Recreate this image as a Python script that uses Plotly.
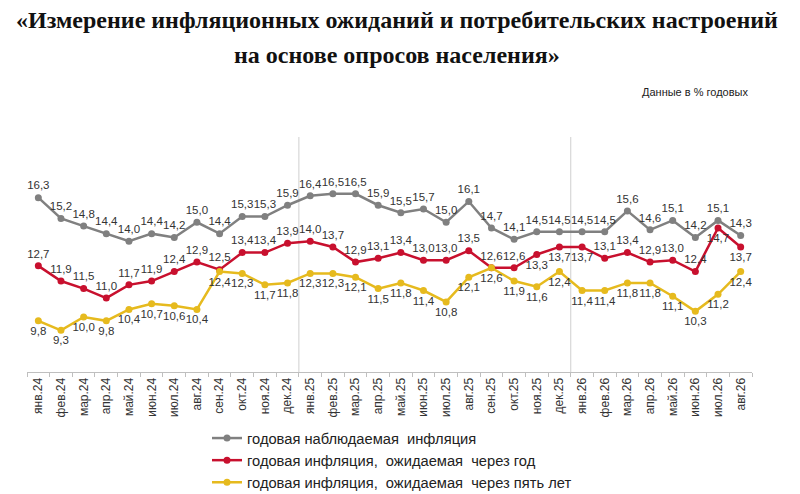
import plotly.graph_objects as go

# месяцы
months = ["янв.24", "фев.24", "мар.24", "апр.24", "май.24", "июн.24", "июл.24", "авг.24",
          "сен.24", "окт.24", "ноя.24", "дек.24", "янв.25", "фев.25", "мар.25", "апр.25",
          "май.25", "июн.25", "июл.25", "авг.25", "сен.25", "окт.25", "ноя.25", "дек.25",
          "янв.26", "фев.26", "мар.26", "апр.26", "май.26", "июн.26", "июл.26", "авг.26"]

observed = [16.3, 15.2, 14.8, 14.4, 14.0, 14.4, 14.2, 15.0, 14.4, 15.3, 15.3, 15.9,
            16.4, 16.5, 16.5, 15.9, 15.5, 15.7, 15.0, 16.1, 14.7, 14.1, 14.5, 14.5,
            14.5, 14.5, 15.6, 14.6, 15.1, 14.2, 15.1, 14.3]
expected_1y = [12.7, 11.9, 11.5, 11.0, 11.7, 11.9, 12.4, 12.9, 12.5, 13.4, 13.4, 13.9,
               14.0, 13.7, 12.9, 13.1, 13.4, 13.0, 13.0, 13.5, 12.6, 12.6, 13.3, 13.7,
               13.7, 13.1, 13.4, 12.9, 13.0, 12.4, 14.7, 13.7]
expected_5y = [9.8, 9.3, 10.0, 9.8, 10.4, 10.7, 10.6, 10.4, 12.4, 12.3, 11.7, 11.8,
               12.3, 12.3, 12.1, 11.5, 11.8, 11.4, 10.8, 12.1, 12.6, 11.9, 11.6, 12.4,
               11.4, 11.4, 11.8, 11.8, 11.1, 10.3, 11.2, 12.4]

def fmt(vals):
    return [f"{v:.1f}".replace(".", ",") for v in vals]

# подписи красной линии снизу для некоторых точек
red_below = {"ноя.25", "дек.25", "янв.26", "июл.26", "авг.26"}
red_pos = ["bottom center" if m in red_below else "top center" for m in months]

label_font = dict(family="Liberation Sans, Arial", size=11.5, color="#333333")

fig = go.Figure()
fig.add_trace(go.Scatter(
    x=months, y=observed, name="годовая наблюдаемая  инфляция",
    mode="lines+markers+text", text=fmt(observed), textposition="top center",
    line=dict(color="#808080", width=2.5), marker=dict(size=7, color="#808080"),
    textfont=label_font, cliponaxis=False))
fig.add_trace(go.Scatter(
    x=months, y=expected_1y, name="годовая инфляция,  ожидаемая  через год",
    mode="lines+markers+text", text=fmt(expected_1y), textposition=red_pos,
    line=dict(color="#C8102E", width=2.5), marker=dict(size=7, color="#C8102E"),
    textfont=label_font, cliponaxis=False))
fig.add_trace(go.Scatter(
    x=months, y=expected_5y, name="годовая инфляция,  ожидаемая  через пять лет",
    mode="lines+markers+text", text=fmt(expected_5y), textposition="bottom center",
    line=dict(color="#E6BA1E", width=2.5), marker=dict(size=7, color="#E6BA1E"),
    textfont=label_font, cliponaxis=False))

# разделители лет
for xb in [11.5, 23.5]:
    fig.add_shape(type="line", x0=xb, x1=xb, y0=0, y1=1, xref="x", yref="paper",
                  line=dict(color="#CFCFCF", width=1), layer="below")

title_font = dict(family="Liberation Serif", size=24, color="#111111")
title_x = (397 - 8 - 18.65) / 725.75
fig.add_annotation(text="<b>«Измерение инфляционных ожиданий и потребительских настроений</b>",
                   x=title_x, y=1.498, xref="paper", yref="paper", showarrow=False,
                   xanchor="center", yanchor="middle", font=title_font)
fig.add_annotation(text="<b>на основе опросов населения»</b>",
                   x=title_x, y=1.349, xref="paper", yref="paper", showarrow=False,
                   xanchor="center", yanchor="middle", font=title_font)
fig.add_annotation(text="Данные в % годовых", x=(750 - 26.65) / 725.75, y=1.191,
                   xref="paper", yref="paper", showarrow=False,
                   xanchor="right", yanchor="middle",
                   font=dict(family="Liberation Sans Narrow, Liberation Sans", size=11, color="#222222"))

# страница сдвигает график на 8px (отступ body), компенсируем в полях
fig.update_layout(
    width=800, height=494,
    margin=dict(l=18.65, r=55.6, t=129, b=130, autoexpand=False),
    paper_bgcolor="white", plot_bgcolor="white",
    showlegend=True,
    legend=dict(x=199 / 800, y=1 - 414 / 494, xref="container", yref="container",
                xanchor="left", yanchor="top",
                font=dict(family="Liberation Sans, Arial", size=14.7, color="#222222"),
                tracegroupgap=0, itemwidth=30),
    xaxis=dict(type="category", tickangle=-90, showgrid=False, showline=True,
               linecolor="#BFBFBF", linewidth=1, ticks="outside", ticklen=4,
               tickcolor="#BFBFBF", tickson="boundaries", automargin=False,
               tickfont=dict(family="Liberation Sans, Arial", size=12, color="#333333"),
               range=[-0.5, 31.5]),
    yaxis=dict(range=[7.1, 19.5], visible=False, showgrid=False),
    font=dict(family="Liberation Sans, Arial"),
)

fig.write_html("out.html")
